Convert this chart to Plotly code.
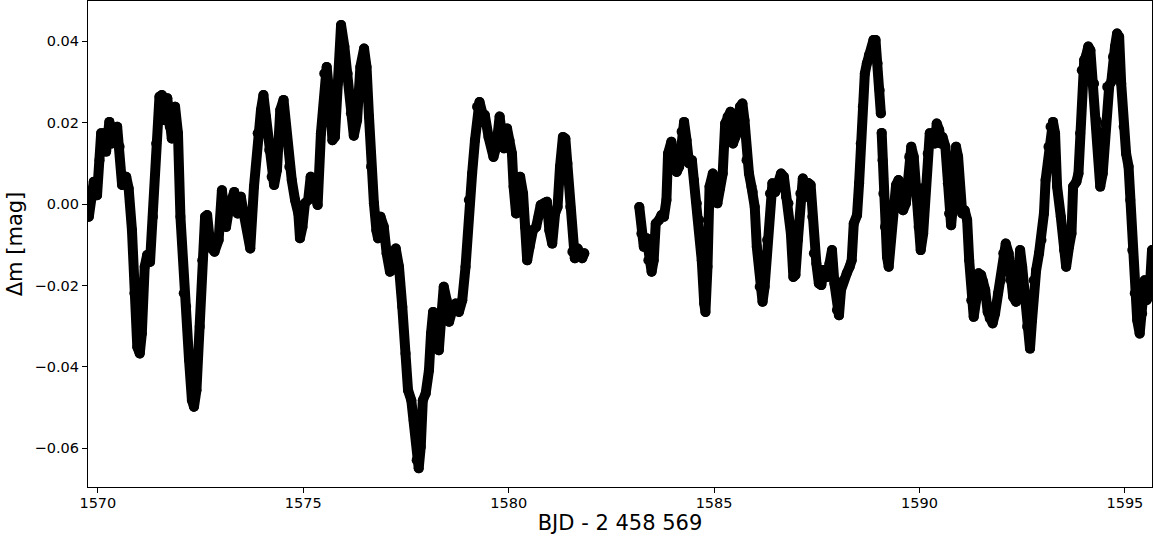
import plotly.graph_objects as go

# Segment 1 (before the data gap)
t_seg1 = [1569.78, 1569.84, 1569.90, 1569.98, 1570.04, 1570.08, 1570.16, 1570.20, 1570.28, 1570.34,
          1570.47, 1570.53, 1570.59, 1570.69, 1570.75, 1570.83, 1570.89, 1570.96, 1571.02, 1571.07,
          1571.14, 1571.20, 1571.27, 1571.34, 1571.42, 1571.50, 1571.56, 1571.62, 1571.69, 1571.75,
          1571.80, 1571.88, 1571.95, 1572.01, 1572.09, 1572.15, 1572.22, 1572.29, 1572.34, 1572.40,
          1572.48, 1572.54, 1572.61, 1572.66, 1572.74, 1572.84, 1572.94, 1573.02, 1573.12, 1573.20,
          1573.32, 1573.40, 1573.48, 1573.55, 1573.63, 1573.71, 1573.80, 1573.89, 1573.97, 1574.03,
          1574.09, 1574.17, 1574.23, 1574.29, 1574.36, 1574.44, 1574.52, 1574.58, 1574.66, 1574.72,
          1574.80, 1574.88, 1574.92, 1574.98, 1575.04, 1575.12, 1575.18, 1575.25, 1575.35, 1575.43,
          1575.51, 1575.57, 1575.65, 1575.71, 1575.77, 1575.84, 1575.92, 1576.00, 1576.08, 1576.16,
          1576.23, 1576.31, 1576.39, 1576.48, 1576.54, 1576.60, 1576.65, 1576.72, 1576.78, 1576.82,
          1576.88, 1576.96, 1577.03, 1577.11, 1577.16, 1577.25, 1577.33, 1577.41, 1577.49, 1577.55,
          1577.63, 1577.69, 1577.76, 1577.81, 1577.86, 1577.91, 1577.98, 1578.06, 1578.11, 1578.16,
          1578.22, 1578.30, 1578.36, 1578.42, 1578.49, 1578.55, 1578.63, 1578.71, 1578.79, 1578.87,
          1578.95, 1579.03, 1579.11, 1579.18, 1579.23, 1579.29, 1579.36, 1579.42, 1579.51, 1579.57,
          1579.63, 1579.70, 1579.78, 1579.83, 1579.89, 1579.96, 1580.02, 1580.08, 1580.12, 1580.18,
          1580.24, 1580.28, 1580.35, 1580.40, 1580.45, 1580.51, 1580.59, 1580.67, 1580.73, 1580.78,
          1580.86, 1580.93, 1580.99, 1581.06, 1581.13, 1581.19, 1581.25, 1581.32, 1581.38, 1581.43,
          1581.50, 1581.55, 1581.61, 1581.68, 1581.74, 1581.79, 1581.84]
m_seg1 = [-0.0031, 0.0034, 0.0055, 0.0022, 0.0108, 0.0174, 0.0174, 0.0129, 0.0202, 0.0149,
          0.0190, 0.0141, 0.0047, 0.0067, 0.0038, -0.0064, -0.0219, -0.0351, -0.0367, -0.0318,
          -0.0154, -0.0125, -0.0142, -0.0031, 0.0149, 0.0264, 0.0268, 0.0206, 0.0260, 0.0190,
          0.0161, 0.0239, 0.0174, -0.0031, -0.0219, -0.0252, -0.0383, -0.0482, -0.0498, -0.0457,
          -0.0301, -0.0138, -0.0031, -0.0027, -0.0105, -0.0117, -0.0088, 0.0034, -0.0056, -0.0007,
          0.0030, -0.0023, 0.0018, -0.0023, -0.0056, -0.0109, 0.0043, 0.0174, 0.0231, 0.0268,
          0.0215, 0.0133, 0.0067, 0.0047, 0.0084, 0.0231, 0.0256, 0.0190, 0.0092, 0.0059,
          0.0010, -0.0023, -0.0084, -0.0056, 0.0002, 0.0010, 0.0067, 0.0043, -0.0002, 0.0174,
          0.0321, 0.0337, 0.0256, 0.0157, 0.0165, 0.0296, 0.0440, 0.0387, 0.0321, 0.0223,
          0.0168, 0.0206, 0.0337, 0.0382, 0.0337, 0.0215, 0.0092, 0.0002, -0.0064, -0.0084,
          -0.0031, -0.0056, -0.0121, -0.0166, -0.0162, -0.0109, -0.0154, -0.0252, -0.0367, -0.0457,
          -0.0482, -0.0531, -0.0629, -0.0649, -0.0596, -0.0482, -0.0465, -0.0408, -0.0318, -0.0265,
          -0.0285, -0.0359, -0.0277, -0.0203, -0.0236, -0.0289, -0.0260, -0.0244, -0.0265, -0.0236,
          -0.0154, 0.0010, 0.0075, 0.0157, 0.0239, 0.0251, 0.0223, 0.0219, 0.0165, 0.0149,
          0.0116, 0.0141, 0.0215, 0.0174, 0.0137, 0.0186, 0.0157, 0.0124, 0.0043, -0.0023,
          0.0043, 0.0067, 0.0026, -0.0056, -0.0138, -0.0105, -0.0064, -0.0056, -0.0031, -0.0002,
          0.0002, 0.0006, -0.0064, -0.0097, -0.0023, -0.0007, 0.0092, 0.0165, 0.0161, 0.0100,
          -0.0007, -0.0117, -0.0133, -0.0109, -0.0125, -0.0133, -0.0121]

# Segment 2a (after the gap, up to the small break near 1589.06)
t_seg2a = [1583.18, 1583.23, 1583.29, 1583.36, 1583.40, 1583.48, 1583.53, 1583.58, 1583.66, 1583.72,
           1583.78, 1583.84, 1583.88, 1583.96, 1584.02, 1584.09, 1584.15, 1584.21, 1584.27, 1584.33,
           1584.39, 1584.46, 1584.51, 1584.58, 1584.64, 1584.70, 1584.76, 1584.79, 1584.84, 1584.89,
           1584.97, 1585.03, 1585.08, 1585.14, 1585.21, 1585.27, 1585.33, 1585.40, 1585.46, 1585.52,
           1585.58, 1585.63, 1585.69, 1585.74, 1585.79, 1585.85, 1585.91, 1585.94, 1585.99, 1586.04,
           1586.11, 1586.18, 1586.23, 1586.29, 1586.36, 1586.42, 1586.49, 1586.55, 1586.63, 1586.70,
           1586.75, 1586.81, 1586.87, 1586.93, 1586.98, 1587.04, 1587.10, 1587.16, 1587.23, 1587.29,
           1587.35, 1587.39, 1587.43, 1587.49, 1587.55, 1587.61, 1587.67, 1587.75, 1587.81, 1587.87,
           1587.93, 1587.99, 1588.04, 1588.09, 1588.15, 1588.23, 1588.30, 1588.35, 1588.40, 1588.48,
           1588.53, 1588.57, 1588.62, 1588.67, 1588.72, 1588.77, 1588.83, 1588.88, 1588.93, 1588.98,
           1589.03, 1589.06]
m_seg2a = [-0.0007, -0.0072, -0.0105, -0.0084, -0.0138, -0.0166, -0.0138, -0.0048, -0.0039, -0.0027,
           -0.0031, 0.0010, 0.0124, 0.0153, 0.0092, 0.0079, 0.0092, 0.0178, 0.0202, 0.0157,
           0.0100, 0.0108, 0.0059, 0.0002, -0.0039, -0.0138, -0.0244, -0.0265, -0.0154, 0.0043,
           0.0075, 0.0055, 0.0002, 0.0038, 0.0075, 0.0198, 0.0215, 0.0227, 0.0149, 0.0165,
           0.0182, 0.0239, 0.0247, 0.0206, 0.0108, 0.0075, 0.0043, 0.0030, -0.0007, -0.0105,
           -0.0203, -0.0240, -0.0203, -0.0088, 0.0026, 0.0051, 0.0030, 0.0047, 0.0075, 0.0067,
           0.0018, 0.0002, -0.0072, -0.0179, -0.0174, -0.0088, 0.0026, 0.0063, 0.0018, 0.0052,
           0.0047, -0.0031, -0.0121, -0.0146, -0.0195, -0.0199, -0.0162, -0.0179, -0.0146, -0.0113,
           -0.0195, -0.0260, -0.0273, -0.0211, -0.0187, -0.0170, -0.0154, -0.0138, -0.0048, -0.0027,
           0.0051, 0.0149, 0.0239, 0.0321, 0.0346, 0.0366, 0.0378, 0.0403, 0.0403, 0.0346,
           0.0280, 0.0223]

# Segment 2b (after the small break)
t_seg2b = [1589.08, 1589.10, 1589.12, 1589.16, 1589.21, 1589.25, 1589.30, 1589.36, 1589.43, 1589.49,
           1589.55, 1589.60, 1589.67, 1589.72, 1589.75, 1589.80, 1589.86, 1589.93, 1589.98, 1590.03,
           1590.09, 1590.14, 1590.20, 1590.25, 1590.32, 1590.38, 1590.42, 1590.48, 1590.52, 1590.56,
           1590.63, 1590.69, 1590.72, 1590.77, 1590.82, 1590.89, 1590.94, 1590.98, 1591.04, 1591.10,
           1591.16, 1591.21, 1591.26, 1591.32, 1591.38, 1591.44, 1591.50, 1591.55, 1591.60, 1591.66,
           1591.71, 1591.78, 1591.84, 1591.91, 1591.98, 1592.04, 1592.10, 1592.17, 1592.22, 1592.28,
           1592.35, 1592.40, 1592.45, 1592.50, 1592.57, 1592.62, 1592.69, 1592.74, 1592.78, 1592.84,
           1592.91, 1592.97, 1593.03, 1593.07, 1593.14, 1593.19, 1593.25, 1593.30, 1593.35, 1593.44,
           1593.52, 1593.57, 1593.64, 1593.70, 1593.74, 1593.82, 1593.87, 1593.91, 1593.95, 1594.01,
           1594.05, 1594.11, 1594.16, 1594.20, 1594.25, 1594.31, 1594.36, 1594.40, 1594.46, 1594.52,
           1594.57, 1594.62, 1594.67, 1594.71, 1594.76, 1594.81, 1594.86, 1594.91, 1594.97, 1595.03,
           1595.09, 1595.13, 1595.18, 1595.24, 1595.30, 1595.36, 1595.42, 1595.48, 1595.53, 1595.60,
           1595.66]
m_seg2b = [0.0175, 0.0108, 0.0026, -0.0056, -0.0130, -0.0154, -0.0088, -0.0007, 0.0047, 0.0059,
           0.0010, -0.0015, 0.0002, 0.0043, 0.0116, 0.0141, 0.0116, 0.0043, -0.0056, -0.0113,
           -0.0072, 0.0043, 0.0124, 0.0174, 0.0174, 0.0149, 0.0198, 0.0182, 0.0149, 0.0165,
           0.0141, 0.0051, -0.0023, -0.0052, 0.0002, 0.0141, 0.0116, 0.0043, -0.0023, -0.0015,
           -0.0039, -0.0138, -0.0236, -0.0277, -0.0236, -0.0170, -0.0174, -0.0191, -0.0211, -0.0265,
           -0.0281, -0.0293, -0.0269, -0.0219, -0.0187, -0.0121, -0.0097, -0.0121, -0.0187, -0.0228,
           -0.0240, -0.0154, -0.0113, -0.0154, -0.0236, -0.0301, -0.0355, -0.0285, -0.0187, -0.0162,
           -0.0121, -0.0088, -0.0023, 0.0059, 0.0141, 0.0190, 0.0202, 0.0174, 0.0043, -0.0031,
           -0.0113, -0.0154, -0.0105, -0.0072, 0.0043, 0.0055, 0.0075, 0.0174, 0.0329, 0.0354,
           0.0362, 0.0387, 0.0378, 0.0313, 0.0296, 0.0206, 0.0124, 0.0043, 0.0075, 0.0198,
           0.0288, 0.0292, 0.0301, 0.0362, 0.0387, 0.0419, 0.0411, 0.0296, 0.0190, 0.0124,
           0.0092, 0.0010, -0.0113, -0.0219, -0.0285, -0.0318, -0.0269, -0.0187, -0.0236, -0.0219,
           -0.0113]

x_tick_vals = [1570, 1575, 1580, 1585, 1590, 1595]
x_tick_text = ["1570", "1575", "1580", "1585", "1590", "1595"]
y_tick_vals = [0.04, 0.02, 0.0, -0.02, -0.04, -0.06]
y_tick_text = ["0.04", "0.02", "0.00", "\u22120.02", "\u22120.04", "\u22120.06"]

fig = go.Figure()
for t, m in [(t_seg1, m_seg1), (t_seg2a, m_seg2a), (t_seg2b, m_seg2b)]:
    fig.add_trace(go.Scatter(
        x=t, y=m, mode="lines+markers",
        line=dict(color="black", width=10),
        marker=dict(color="black", size=10, line=dict(width=0)),
        showlegend=False, hoverinfo="skip"))

axis_common = dict(
    showline=True, linecolor="black", linewidth=1.2, mirror=True,
    ticks="outside", ticklen=5, tickwidth=1, tickcolor="black",
    showgrid=False, zeroline=False,
    tickfont=dict(family="DejaVu Sans", size=14.5, color="black"),
)

fig.update_layout(
    width=1154, height=535,
    margin=dict(l=88, r=2, t=1, b=48),
    paper_bgcolor="white", plot_bgcolor="white",
    font=dict(family="DejaVu Sans", color="black"),
    xaxis=dict(range=[1569.76, 1595.66], tickvals=x_tick_vals, ticktext=x_tick_text,
               ticklabelstandoff=-3,
               title=dict(text="BJD - 2 458 569", font=dict(size=21), standoff=5),
               **axis_common),
    yaxis=dict(range=[-0.0695, 0.0499], tickvals=y_tick_vals, ticktext=y_tick_text,
               title=dict(text="\u0394m [mag]", font=dict(size=21), standoff=6),
               **axis_common),
)

round_joins = """
function roundJoins(){
  document.querySelectorAll('.scatterlayer path.js-line').forEach(function(p){
    p.style.strokeLinejoin = 'round';
    p.style.strokeLinecap = 'round';
  });
}
roundJoins();
var gd = document.getElementById('{plot_id}');
if (gd && gd.on) { gd.on('plotly_afterplot', roundJoins); }
"""

fig.write_html("out.html", post_script=round_joins)
